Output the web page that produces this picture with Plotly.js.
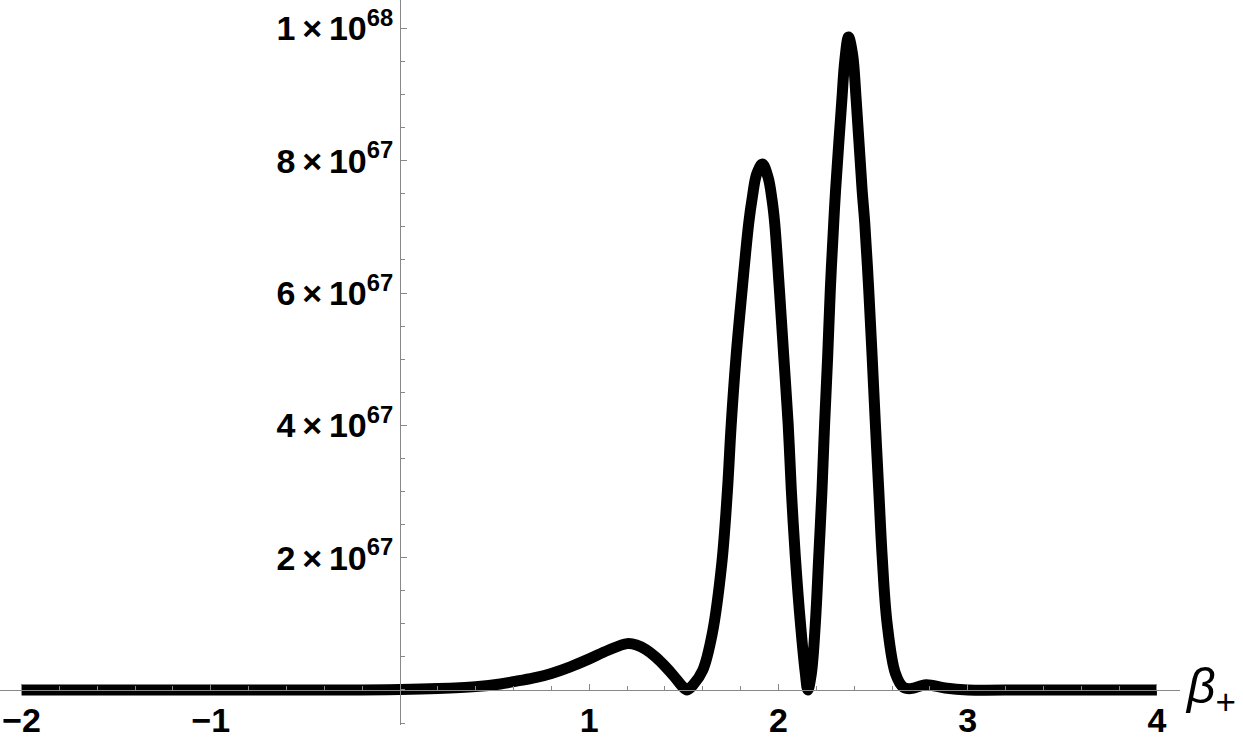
<!DOCTYPE html>
<html>
<head>
<meta charset="utf-8">
<script src="https://cdn.plot.ly/plotly-3.0.1.min.js"></script>
<style>
  html, body { margin: 0; padding: 0; background: #fff; }
  #plot { width: 1243px; height: 739px; }
</style>
</head>
<body>
<div id="plot"></div>
<script>
// beta_+ values and the density (density in units of 1e67)
const betaPlus = [-2, -1.5, -1, -0.5, -0.2, 0, 0.2, 0.4, 0.53, 0.63, 0.72, 0.8, 0.9, 1.0, 1.1, 1.2, 1.25, 1.3, 1.35, 1.4, 1.45, 1.49, 1.517,
  1.55, 1.6, 1.65, 1.7, 1.73, 1.75, 1.776, 1.808, 1.843, 1.862, 1.885, 1.915, 1.945, 1.966, 1.98, 2.005, 2.028, 2.051, 2.068, 2.089, 2.116, 2.142, 2.155,
  2.174, 2.195, 2.213, 2.23, 2.244, 2.26, 2.274, 2.292, 2.302, 2.335, 2.35, 2.37, 2.392, 2.41, 2.442, 2.456, 2.477, 2.495, 2.512, 2.53, 2.548, 2.574, 2.618, 2.66,
  2.7, 2.78, 2.88, 3.0, 3.3, 3.6, 4.0];
const density = [0, 0, 0, 0, 0, 0.005, 0.02, 0.05, 0.09, 0.14, 0.19, 0.25, 0.35, 0.47, 0.6, 0.7, 0.68, 0.61, 0.5, 0.36, 0.2, 0.06, 0,
  0.08, 0.3, 0.85, 1.9, 3.0, 4.0, 5.04, 6.05, 7.06, 7.45, 7.8, 7.95, 7.75, 7.41, 7.06, 6.05, 5.04, 4.03, 3.02, 2.02, 1.01, 0.25, 0,
  0.25, 1.01, 2.02, 3.02, 4.03, 5.04, 6.05, 7.06, 7.56, 8.92, 9.5, 9.87, 9.6, 8.95, 7.56, 7.06, 6.05, 5.04, 4.03, 3.02, 2.02, 1.01, 0.25, 0.04,
  0.02, 0.08, 0.03, 0, 0, 0, 0];

const xTickVals = [-2, -1, 1, 2, 3, 4];
const yTickVals = [2, 4, 6, 8, 10];
const yTickText = ["2\u2009\u00d7\u200910<sup>67</sup>", "4\u2009\u00d7\u200910<sup>67</sup>", "6\u2009\u00d7\u200910<sup>67</sup>",
  "8\u2009\u00d7\u200910<sup>67</sup>", "1\u2009\u00d7\u200910<sup>68</sup>"];

const xRange = [-2.114, 4.122];
const yRange = [-0.53, 10.43];
const axisGray = "#888888";
const fontFamily = "Liberation Sans, Arial, sans-serif";
const tickFont = {family: fontFamily, size: 34, color: "#000", weight: "bold"};

const data = [{
  x: betaPlus,
  y: density,
  type: "scatter",
  mode: "lines",
  line: {color: "#000", width: 11, shape: "spline", smoothing: 1},
  hoverinfo: "skip"
}];

const layout = {
  width: 1243,
  height: 739,
  margin: {l: 0, r: 63, t: 0, b: 14},
  paper_bgcolor: "#fff",
  plot_bgcolor: "#fff",
  showlegend: false,
  xaxis: {
    range: xRange,
    anchor: "free",
    position: (0 - yRange[0]) / (yRange[1] - yRange[0]),  // x axis sits on y = 0
    showgrid: false, zeroline: false,
    showline: true, linecolor: axisGray, linewidth: 1,
    tickmode: "array", tickvals: xTickVals,
    ticks: "inside", ticklen: 6, tickcolor: axisGray,
    tickfont: tickFont,
    minor: {tickmode: "linear", tick0: 0, dtick: 0.2, ticks: "inside", ticklen: 3.5, tickcolor: axisGray, showgrid: false}
  },
  yaxis: {
    range: yRange,
    anchor: "free",
    position: (0 - xRange[0]) / (xRange[1] - xRange[0]),  // y axis sits on x = 0
    showgrid: false, zeroline: false,
    showline: true, linecolor: axisGray, linewidth: 1,
    tickmode: "array", tickvals: yTickVals, ticktext: yTickText,
    ticks: "inside", ticklen: 6, tickcolor: axisGray,
    tickfont: tickFont,
    minor: {tickmode: "linear", tick0: 0, dtick: 0.5, ticks: "inside", ticklen: 3.5, tickcolor: axisGray, showgrid: false}
  },
  annotations: [{
    text: "<i>\u03b2</i><sub>+</sub>",
    xref: "paper", yref: "y",
    x: 1, y: 0,
    xanchor: "left", yanchor: "middle",
    xshift: 3,
    showarrow: false,
    font: {family: fontFamily, size: 50, color: "#000"}
  }]
};

Plotly.newPlot("plot", data, layout, {staticPlot: true});
</script>
</body>
</html>
